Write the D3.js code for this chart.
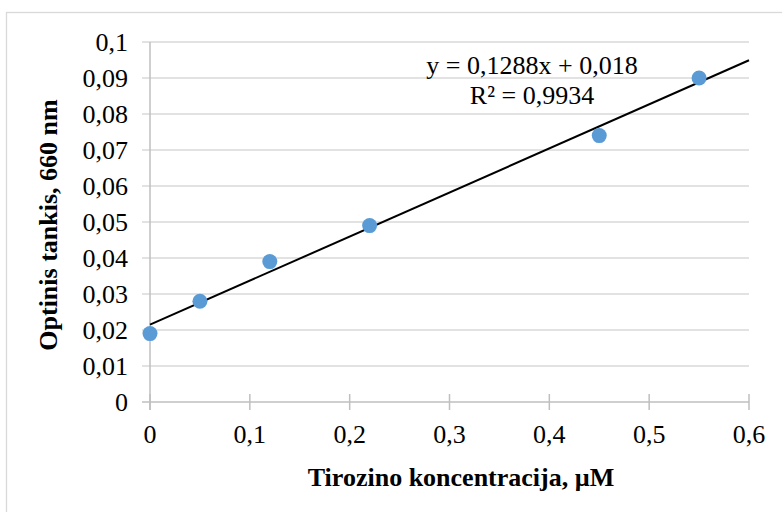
<!DOCTYPE html>
<html>
<head>
<meta charset="utf-8">
<script src="https://cdn.jsdelivr.net/npm/d3@7"></script>
<style>
  html, body { margin: 0; padding: 0; background: #fff; }
  svg { display: block; }
</style>
</head>
<body>
<svg id="chart" width="782" height="512" font-family="'Liberation Serif', 'Times New Roman', 'DejaVu Serif', serif"></svg>
<script>
// Data
const concentrations = [0, 0.05, 0.12, 0.22, 0.45, 0.55];
const absorbance = [0.019, 0.028, 0.039, 0.049, 0.074, 0.090];
const xTicks = [0, 0.1, 0.2, 0.3, 0.4, 0.5, 0.6];
const yTicks = [0, 0.01, 0.02, 0.03, 0.04, 0.05, 0.06, 0.07, 0.08, 0.09, 0.1];
const equationLines = ["y = 0,1288x + 0,018", "R² = 0,9934"];
const xTitle = "Tirozino koncentracija, µM";
const yTitle = "Optinis tankis, 660 nm";

const FONT = "'Liberation Serif', 'Times New Roman', 'DejaVu Serif', serif";
const svg = d3.select("#chart");
const plot = { left: 150, right: 749, top: 42, bottom: 402 };

// chart area border
svg.append("rect")
  .attr("x", 6.5).attr("y", 12.5)
  .attr("width", 900).attr("height", 700)
  .attr("fill", "#fff").attr("stroke", "#d9d9d9").attr("stroke-width", 1.3);

const x = d3.scaleLinear().domain([0, 0.6]).range([plot.left, plot.right]);
const y = d3.scaleLinear().domain([0, 0.1]).range([plot.bottom, plot.top]);
const fmt = d => d3.format("~g")(d).replace(".", ",");

// horizontal gridlines with crossing ticks
svg.append("g")
  .selectAll("line")
  .data(yTicks.filter(d => d > 0))
  .join("line")
  .attr("x1", plot.left - 8).attr("x2", plot.right)
  .attr("y1", d => y(d)).attr("y2", d => y(d))
  .attr("stroke", "#d9d9d9").attr("stroke-width", 1.3);

// y axis line
svg.append("line")
  .attr("x1", plot.left).attr("x2", plot.left)
  .attr("y1", plot.top).attr("y2", plot.bottom + 8)
  .attr("stroke", "#bfbfbf").attr("stroke-width", 1.5);

// x axis line
svg.append("line")
  .attr("x1", plot.left - 8).attr("x2", plot.right)
  .attr("y1", plot.bottom).attr("y2", plot.bottom)
  .attr("stroke", "#bfbfbf").attr("stroke-width", 1.5);

// x ticks (crossing)
svg.append("g")
  .selectAll("line")
  .data(xTicks)
  .join("line")
  .attr("x1", d => x(d)).attr("x2", d => x(d))
  .attr("y1", plot.bottom - 8).attr("y2", plot.bottom + 8)
  .attr("stroke", "#bfbfbf").attr("stroke-width", 1.5);

// y tick labels
svg.append("g")
  .selectAll("text")
  .data(yTicks)
  .join("text")
  .attr("x", 128).attr("y", d => y(d) + 9)
  .attr("text-anchor", "end")
  .attr("font-family", FONT)
  .attr("font-size", 26)
  .text(fmt);

// x tick labels
svg.append("g")
  .selectAll("text")
  .data(xTicks)
  .join("text")
  .attr("x", d => x(d)).attr("y", 443)
  .attr("text-anchor", "middle")
  .attr("font-family", FONT)
  .attr("font-size", 26)
  .text(fmt);

// linear trendline (least squares from data)
const n = concentrations.length;
const mx = d3.mean(concentrations), my = d3.mean(absorbance);
let sxy = 0, sxx = 0;
for (let i = 0; i < n; i++) {
  sxy += (concentrations[i] - mx) * (absorbance[i] - my);
  sxx += (concentrations[i] - mx) ** 2;
}
const slope = sxy / sxx, intercept = my - slope * mx;
const trendX = [0, 0.6];
svg.append("line")
  .attr("x1", x(trendX[0])).attr("y1", y(intercept + slope * trendX[0]))
  .attr("x2", x(trendX[1])).attr("y2", y(intercept + slope * trendX[1]))
  .attr("stroke", "#000").attr("stroke-width", 2);

// points
svg.append("g")
  .selectAll("circle")
  .data(concentrations.map((c, i) => [c, absorbance[i]]))
  .join("circle")
  .attr("cx", d => x(d[0])).attr("cy", d => y(d[1]))
  .attr("r", 7.5)
  .attr("fill", "#5b9bd5");

// equation label
svg.append("g")
  .selectAll("text")
  .data(equationLines)
  .join("text")
  .attr("x", 532).attr("y", (d, i) => 74 + i * 30)
  .attr("text-anchor", "middle")
  .attr("font-family", FONT)
  .attr("font-size", 26)
  .text(d => d);

// axis titles
svg.append("text")
  .attr("x", 461).attr("y", 486)
  .attr("text-anchor", "middle")
  .attr("font-family", FONT)
  .attr("font-size", 26).attr("font-weight", "bold")
  .text(xTitle);

svg.append("text")
  .attr("transform", `translate(57,${(plot.top + plot.bottom) / 2 + 3}) rotate(-90)`)
  .attr("text-anchor", "middle")
  .attr("font-family", FONT)
  .attr("font-size", 26).attr("font-weight", "bold")
  .text(yTitle);
</script>
</body>
</html>
